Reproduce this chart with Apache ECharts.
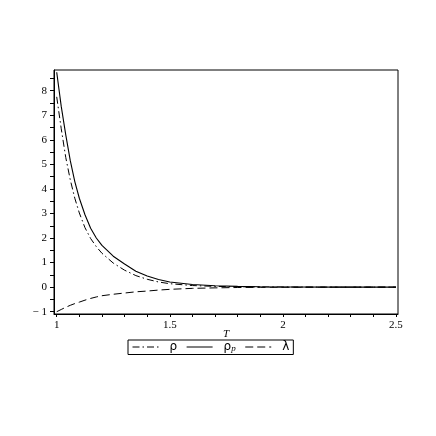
<!DOCTYPE html>
<html>
<head>
<meta charset="utf-8">
<script src="https://cdn.jsdelivr.net/npm/echarts@6/dist/echarts.min.js"></script>
<style>html,body{margin:0;padding:0;background:#fff}#c{width:436px;height:436px}</style>
</head>
<body>
<div id="c"></div>
<script>
var T      = [1.00, 1.02, 1.04, 1.06, 1.08, 1.10, 1.125, 1.15, 1.175, 1.20, 1.25, 1.30, 1.35, 1.40, 1.45, 1.50, 1.60, 1.70, 1.80, 1.90, 2.00, 2.25, 2.50];
var rho    = [7.75, 6.45, 5.28, 4.37, 3.62, 3.02, 2.42, 1.98, 1.65, 1.38, 0.98, 0.69, 0.47, 0.32, 0.21, 0.14, 0.065, 0.03, 0.015, 0.008, 0.005, 0.0, 0.0];
var rhoP   = [8.75, 7.36, 6.20, 5.15, 4.30, 3.62, 2.95, 2.40, 2.00, 1.70, 1.26, 0.94, 0.65, 0.45, 0.31, 0.21, 0.11, 0.055, 0.03, 0.015, 0.008, 0.0, 0.0];
var lambda = [-1.0, -0.91, -0.82, -0.74, -0.67, -0.61, -0.53, -0.46, -0.40, -0.35, -0.29, -0.24, -0.19, -0.16, -0.12, -0.09, -0.05, -0.03, -0.015, -0.008, -0.005, 0.0, 0.0];
var xTicks  = [1, 1.1, 1.2, 1.3, 1.4, 1.5, 1.6, 1.7, 1.8, 1.9, 2, 2.1, 2.2, 2.3, 2.4, 2.5];
var xLabels = [1, 1.5, 2, 2.5];
var yTicks  = [-1, -0.5, 0, 0.5, 1, 1.5, 2, 2.5, 3, 3.5, 4, 4.5, 5, 5.5, 6, 6.5, 7, 7.5, 8, 8.5];
var yLabels = [-1, 0, 1, 2, 3, 4, 5, 6, 7, 8];
var names = ['ρ', 'ρp', 'λ'];

function pairs(ys){ return T.map(function(t,i){ return [t, ys[i]]; }); }

var chart = echarts.init(document.getElementById('c'), null, {renderer:'canvas'});
var serif = 'Liberation Serif';
var lineBase = {type:'line', showSymbol:false, symbol:'none', smooth:false, z:3};
chart.setOption({
  animation:false,
  backgroundColor:'#fff',
  grid:{left:54, right:38, top:70, bottom:122, show:true, borderColor:'#000', borderWidth:1, backgroundColor:'transparent'},
  xAxis:{
    type:'value', min:0.988, max:2.509,
    name:'T', nameLocation:'middle', nameGap:15, nameMoveOverlap:false,
    nameTextStyle:{fontFamily:serif, fontStyle:'italic', fontSize:11, color:'#000'},
    axisLine:{onZero:false, lineStyle:{color:'#000', width:1}},
    axisTick:{show:true, length:3, lineStyle:{color:'#000'}, customValues:xTicks},
    axisLabel:{fontFamily:serif, fontSize:11, color:'#000', margin:6, customValues:xLabels,
      formatter:function(v){ return String(v); }},
    splitLine:{show:false}
  },
  yAxis:{
    type:'value', min:-1.094, max:8.843,
    axisLine:{onZero:false, lineStyle:{color:'#000', width:1}},
    axisTick:{show:true, length:4, lineStyle:{color:'#000'}, customValues:yTicks},
    axisLabel:{fontFamily:serif, fontSize:11, color:'#000', margin:7, customValues:yLabels,
      formatter:function(v){ return v < 0 ? '\u2212 ' + Math.abs(v) : String(v); }},
    splitLine:{show:false}
  },
  legend:{
    left:128, top:340, orient:'horizontal',
    borderColor:'#000', borderWidth:1, padding:[1,4,1,4],
    itemWidth:26, itemHeight:10, itemGap:9,
    data:names,
    itemStyle:{opacity:0},
    lineStyle:{width:1},
    textStyle:{fontFamily:'DejaVu Sans', fontSize:12, color:'#000',
      rich:{a:{fontFamily:'DejaVu Sans', fontSize:12, color:'#000', padding:[0,0,0,6]},
            b:{fontFamily:serif, fontStyle:'italic', fontSize:9, color:'#000', padding:[4,0,0,0]}}},
    formatter:function(n){ return n === 'ρp' ? '{a|ρ}{b|p}' : '{a|' + n + '}'; }
  },
  series:[
    Object.assign({}, lineBase, {name:names[0], data:pairs(rho), lineStyle:{color:'#000', width:1, type:[7,3,1.5,3]}, itemStyle:{color:'#000'}}),
    Object.assign({}, lineBase, {name:names[1], data:pairs(rhoP), lineStyle:{color:'#000', width:1.1, type:'solid'}, itemStyle:{color:'#000'}}),
    Object.assign({}, lineBase, {name:names[2], data:pairs(lambda), lineStyle:{color:'#000', width:1, type:[8,4]}, itemStyle:{color:'#000'}})
  ]
});
</script>
</body>
</html>
